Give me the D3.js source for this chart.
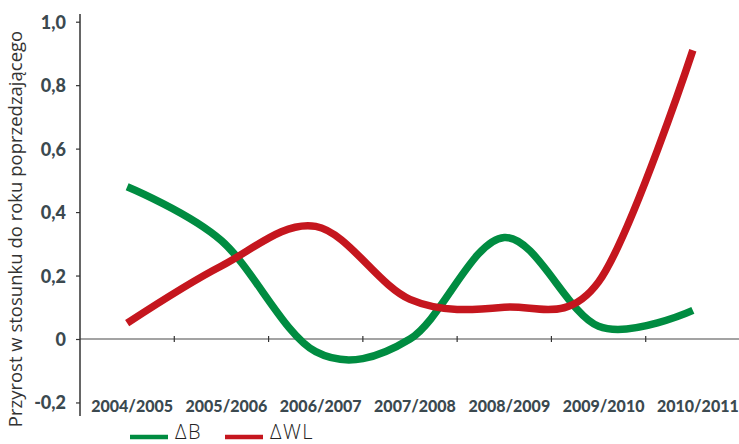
<!DOCTYPE html>
<html>
<head>
<meta charset="utf-8">
<script src="https://cdn.jsdelivr.net/npm/d3@7"></script>
<style>
  html, body { margin: 0; padding: 0; background: #fff; }
  svg { display: block; }
</style>
</head>
<body>
<svg id="chart" width="739" height="444"></svg>
<script>
// School years on the category axis
const seasons = ["2004/2005", "2005/2006", "2006/2007", "2007/2008", "2008/2009", "2009/2010", "2010/2011"];
// Year-over-year growth, ΔB
const deltaB = [0.48, 0.31, -0.04, 0.00, 0.32, 0.04, 0.09];
// Year-over-year growth, ΔWL
const deltaWL = [0.05, 0.23, 0.355, 0.125, 0.10, 0.18, 0.91];
// Value axis ticks and their labels
const yTicks = [-0.2, 0, 0.2, 0.4, 0.6, 0.8, 1.0];
const yTickLabels = ["-0,2", "0", "0,2", "0,4", "0,6", "0,8", "1,0"];
const yTitle = "Przyrost w stosunku do roku poprzedzającego";
const seriesNames = ["B", "WL"];

const GREEN = "#008c41";
const RED = "#c5161e";
const LABEL = "#3b494f";

const svg = d3.select("#chart");

const band = d3.scaleBand().domain(seasons).range([80, 740]);
const x = d3.scalePoint().domain(seasons).range([80, 740]).padding(0.5);
const y = d3.scaleLinear().domain([0, 1]).range([339, 21.7]);

// zero line
svg.append("line")
  .attr("x1", 80).attr("x2", 739)
  .attr("y1", y(0)).attr("y2", y(0))
  .attr("stroke", "#a3a3a3").attr("stroke-width", 2);

// category separators on the zero line
svg.append("g").selectAll("line")
  .data(seasons.slice(1))
  .join("line")
  .attr("x1", d => band(d)).attr("x2", d => band(d))
  .attr("y1", y(0) - 3).attr("y2", y(0) + 3)
  .attr("stroke", "#333").attr("stroke-width", 1.2);

// value axis
const yAxis = d3.axisLeft(y)
  .tickValues(yTicks)
  .tickSize(4)
  .tickPadding(10)
  .tickFormat((d, i) => yTickLabels[i]);

const gy = svg.append("g").attr("transform", "translate(80,0)").call(yAxis);
gy.select(".domain").remove();
gy.selectAll(".tick line").attr("stroke", "#333").attr("stroke-width", 1.2);
gy.selectAll(".tick text")
  .attr("fill", LABEL)
  .attr("font-family", "Lato, 'DejaVu Sans', sans-serif")
  .attr("font-weight", 900)
  .attr("font-size", 18)
  .attr("dy", "0.36em");
svg.append("line")
  .attr("x1", 80).attr("x2", 80)
  .attr("y1", 14).attr("y2", 416)
  .attr("stroke", "#333").attr("stroke-width", 1.5);

// category labels
svg.append("g").selectAll("text")
  .data(seasons)
  .join("text")
  .attr("x", d => x(d) + 5)
  .attr("y", 412)
  .attr("text-anchor", "middle")
  .attr("fill", LABEL)
  .attr("font-family", "Lato, 'DejaVu Sans', sans-serif")
  .attr("font-weight", 900)
  .attr("font-size", 16)
  .text(d => d);

// axis title
svg.append("text")
  .attr("transform", "translate(22,229) rotate(-90)")
  .attr("text-anchor", "middle")
  .attr("fill", "#333")
  .attr("font-family", "'Open Sans', sans-serif")
  .attr("font-size", 18.5)
  .text(yTitle);

// series lines
const line = d3.line()
  .x((d, i) => x(seasons[i]))
  .y(d => y(d))
  .curve(d3.curveCardinal.tension(0));

[[deltaB, GREEN], [deltaWL, RED]].forEach(([vals, col]) => {
  svg.append("path")
    .datum(vals)
    .attr("d", line)
    .attr("fill", "none")
    .attr("stroke", col)
    .attr("stroke-width", 7.5)
    .attr("stroke-linejoin", "round")
    .attr("stroke-linecap", "butt");
});

// legend
const legend = [
  { name: seriesNames[0], color: GREEN, x: 130 },
  { name: seriesNames[1], color: RED, x: 225 }
];
const lg = svg.append("g").selectAll("g").data(legend).join("g")
  .attr("transform", d => `translate(${d.x},0)`);
lg.append("line")
  .attr("x1", 0).attr("x2", 38)
  .attr("y1", 437).attr("y2", 437)
  .attr("stroke", d => d.color).attr("stroke-width", 4.5);
lg.append("text")
  .attr("x", 45).attr("y", 439)
  .attr("fill", "#222")
  .attr("font-family", "'Open Sans', sans-serif")
  .attr("font-weight", 300)
  .attr("font-size", 20)
  .attr("letter-spacing", 1.5)
  .text(d => "\u0394" + d.name);
</script>
</body>
</html>
